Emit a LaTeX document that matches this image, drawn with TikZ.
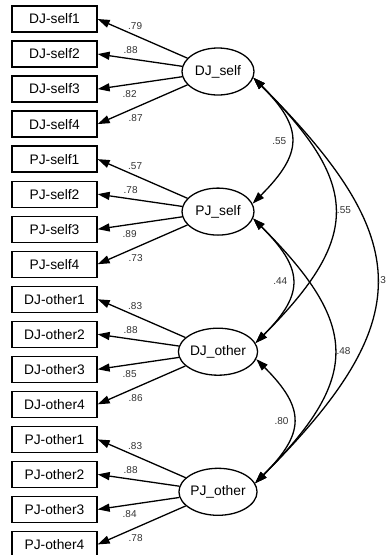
\documentclass[tikz,border=0pt]{standalone}
\usepackage{fontspec}
\setmainfont{Liberation Sans}
\usetikzlibrary{arrows.meta,positioning,shapes.geometric,calc}

\begin{document}
\begin{tikzpicture}[x=1pt, y=1pt,
  obs/.style={rectangle, draw, line width=1.3pt, minimum width=85pt, minimum height=26pt, inner sep=0pt, font=\fontsize{13.8}{15}\selectfont},
  lat/.style={ellipse, draw, line width=1.3pt, minimum width=72pt, minimum height=47pt, inner sep=0pt, font=\fontsize{13.8}{15}\selectfont},
  load/.style={-{Triangle[length=12pt, width=8pt]}, line width=1.3pt},
  cov/.style={{Triangle[length=12pt, width=8pt]}-{Triangle[length=12pt, width=8pt]}, line width=1.3pt, looseness=1.45},
  coef/.style={font=\fontsize{10}{12}\selectfont, text=black!80, inner sep=1pt}]
\useasboundingbox (0,0) rectangle (389,-555);

% factors
\node[lat] (djs) at (218,-71.5) {DJ\_self};
\node[lat] (pjs) at (218,-211.6) {PJ\_self};
\node[lat] (djo) at (218,-351.7) {DJ\_other};
\node[lat] (pjo) at (218,-491.8) {PJ\_other};

% indicators and loadings
\foreach \f/\nm/\va/\vb/\vc/\vd [count=\g from 0] in
  {djs/DJ-self/.79/.88/.82/.87, pjs/PJ-self/.57/.78/.89/.73,
   djo/DJ-other/.83/.88/.85/.86, pjo/PJ-other/.83/.88/.84/.78}{
  \foreach \k in {1,...,4}{
    \node[obs] (\f\k) at (54.5, {-19-35.03*(4*\g+\k-1)}) {\nm\k};
    \draw[load] (\f) -- (\f\k.east);
  }
  \node[coef] at ($(\f1.east)+(37.5,-7)$) {\va};
  \node[coef] at ($(\f2.east)+(33,4)$) {\vb};
  \node[coef] at ($(\f3.east)+(32,-5)$) {\vc};
  \node[coef] at ($(\f4.east)+(38,6)$) {\vd};
}

% covariances
\draw[cov] (djs.-10) to[out=-45, in=45] node[coef, left=3pt] {.55} (pjs.13);
\draw[cov] (djs.-10) to[out=-45, in=45] node[coef, right=1pt] {.55} (djo.13);
\draw[cov] (djs.-10) to[out=-45, in=45] node[coef, right=0pt, inner sep=0.5pt] {.3} (pjo.13);
\draw[cov] (pjs.-11) to[out=-45, in=45] node[coef, left=3pt] {.44} (djo.13);
\draw[cov] (pjs.-11) to[out=-45, in=45] node[coef, right=1pt] {.48} (pjo.13);
\draw[cov] (djo.-11) to[out=-45, in=45] node[coef, left=3pt] {.80} (pjo.13);
\end{tikzpicture}
\end{document}
